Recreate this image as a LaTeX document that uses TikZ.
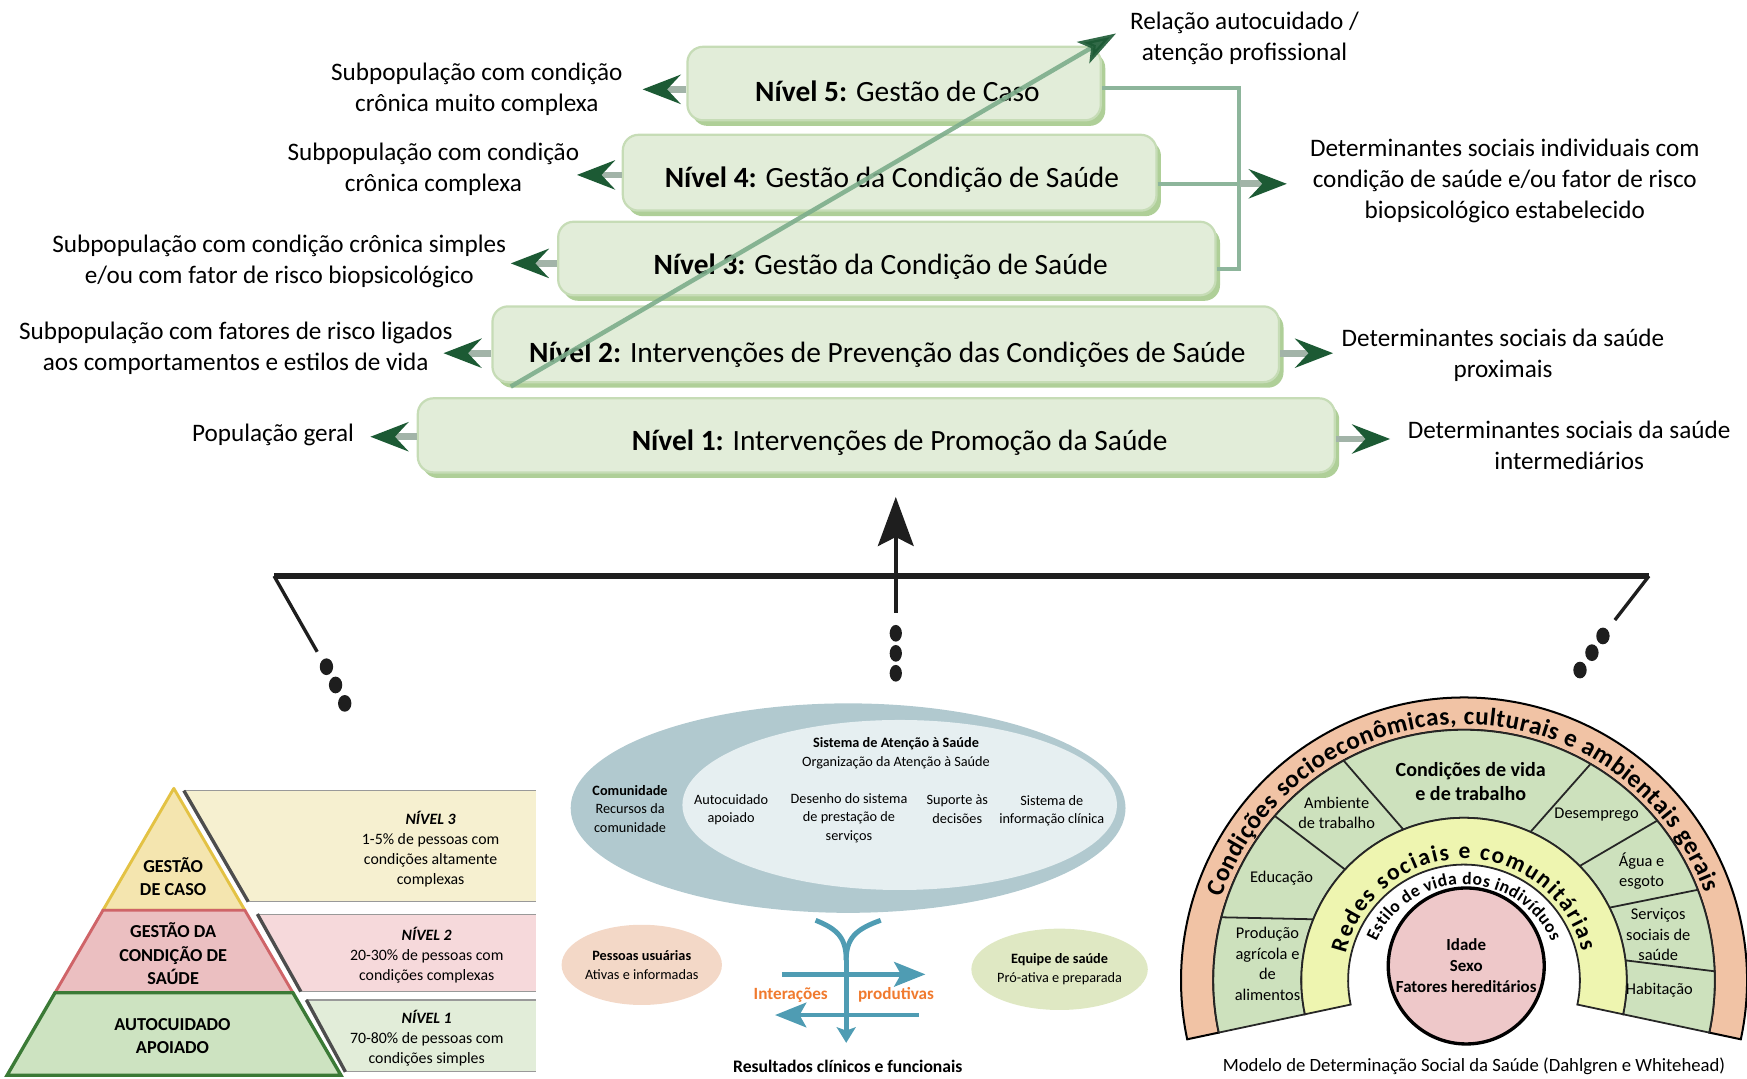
\documentclass[tikz,border=0pt]{standalone}
\usepackage{fontspec}
\setmainfont{Carlito}
\usetikzlibrary{arrows.meta,shapes.geometric,decorations.text,shadows}
\definecolor{barface}{HTML}{E2EDD9}
\definecolor{barrim}{HTML}{C6DCB6}
\definecolor{barshadow}{HTML}{AFCF98}
\definecolor{arrgreen}{HTML}{1C5A34}
\definecolor{stemgray}{HTML}{A2B4A8}
\definecolor{brkcol}{HTML}{8DB59B}
\definecolor{diagcol}{HTML}{7DAD8B}
\definecolor{pyY}{HTML}{F4E5AF}
\definecolor{pyYb}{HTML}{E3C244}
\definecolor{pyR}{HTML}{EBBFC1}
\definecolor{pyRb}{HTML}{CF6468}
\definecolor{pyG}{HTML}{CDE3C1}
\definecolor{pyGb}{HTML}{3B7A36}
\definecolor{bxY}{HTML}{F6F0D0}
\definecolor{bxR}{HTML}{F6D9DB}
\definecolor{bxG}{HTML}{E2EDD9}
\definecolor{bxedgec}{HTML}{4D4D4D}
\definecolor{ellO}{HTML}{B1C9CF}
\definecolor{ellI}{HTML}{E6EFF1}
\definecolor{ellP}{HTML}{F3D8C7}
\definecolor{ellE}{HTML}{DFE8C3}
\definecolor{tealc}{HTML}{4F9CB3}
\definecolor{orangec}{HTML}{F07A2E}
\definecolor{rbS}{HTML}{F1C3A5}
\definecolor{rbG}{HTML}{CDE1BD}
\definecolor{rbY}{HTML}{EEF5B0}
\definecolor{rbP}{HTML}{EEC8C9}
\definecolor{blk}{HTML}{1E1E1E}
\begin{document}
\begin{tikzpicture}[x=0.5pt,y=-0.5pt,
  lab/.style={font=\fontsize{11.3pt}{13.9pt}\selectfont, align=center, inner sep=0pt},
  bar/.style={draw=barrim, line width=1pt, fill=barface, rounded corners=7pt, inner sep=0pt,
    general shadow={fill=barshadow, shadow xshift=2pt, shadow yshift=-2.5pt}},
  bartxt/.style={font=\fontsize{13.2pt}{15pt}\selectfont, anchor=base, inner sep=0pt},
  larr/.style={line width=3pt, draw=stemgray, -{Stealth[length=17pt, width=13pt, inset=6pt, color=arrgreen]}},
  brk/.style={draw=brkcol, line width=1.8pt},
  diag/.style={draw=diagcol, line width=2pt, opacity=0.9, -{Stealth[length=17pt, width=11pt, inset=4pt, color=arrgreen]}},
  blkbar/.style={draw=blk, line width=2.7pt},
  blkleg/.style={draw=blk, line width=1.5pt},
  bigarr/.style={draw=blk, line width=2pt, -{Stealth[length=22pt, width=16pt, inset=4pt]}},
  dotb/.style={fill=blk},
  pyt/.style={font=\bfseries\fontsize{8.2pt}{10.4pt}\selectfont, align=center, inner sep=0pt},
  bxt/.style={font=\fontsize{7.1pt}{9pt}\selectfont, align=center, inner sep=0pt},
  bxtop/.style={draw=black!40, line width=0.5pt},
  bxedge/.style={draw=bxedgec, line width=1.5pt},
  mid/.style={font=\fontsize{6.4pt}{8.3pt}\selectfont, align=center, inner sep=0pt},
  tline/.style={draw=tealc, line width=2.2pt},
  tarr/.style={draw=tealc, line width=2.2pt, -{Stealth[length=14pt, width=11pt, inset=3pt]}},
  tarrs/.style={draw=tealc, line width=2.2pt, -{Stealth[length=7pt, width=8.5pt, inset=1.5pt]}},
  orl/.style={font=\bfseries\fontsize{7.7pt}{9pt}\selectfont, text=orangec, inner sep=0pt},
  rbt/.style={font=\fontsize{7.35pt}{9.3pt}\selectfont, align=center, inner sep=0pt},
  ring/.style={draw=black!85, line width=0.8pt},
]
\useasboundingbox (0,0) rectangle (1568,968);

% ---------------- top: levels ----------------
\node[bar, minimum width=411.5pt, minimum height=33.25pt] (b1) at (786.5,390.75) {};
\node[bar, minimum width=353pt, minimum height=34pt] (b2) at (795,309) {};
\node[bar, minimum width=295pt, minimum height=33pt] (b3) at (796,232) {};
\node[bar, minimum width=239.5pt, minimum height=34pt] (b4) at (798.5,155) {};
\node[bar, minimum width=185.5pt, minimum height=33pt] (b5) at (802.5,75) {};

\node[bartxt] (t5) at (805.5,91) {\textbf{Nível 5:} Gestão de Caso};
\node[bartxt] (t4) at (800.6,168) {\textbf{Nível 4:} Gestão da Condição de Saúde};
\node[bartxt] (t3) at (790.5,246) {\textbf{Nível 3:} Gestão da Condição de Saúde};
\node[bartxt] (t2) at (796.5,325) {\textbf{Nível 2:} Intervenções de Prevenção das Condições de Saúde};
\node[bartxt] (t1) at (807.5,404) {\textbf{Nível 1:} Intervenções de Promoção da Saúde};

% left arrows
\coordinate (a5) at (576.7,80.2);
\coordinate (a4) at (517.8,157);
\coordinate (a3) at (458.4,236.4);
\coordinate (a2) at (398,317);
\coordinate (a1) at (332.4,392);
\draw[larr] (b5.west |- a5) -- (a5);
\draw[larr] (b4.west |- a4) -- (a4);
\draw[larr] (b3.west |- a3) -- (a3);
\draw[larr] (b2.west |- a2) -- (a2);
\draw[larr] (b1.west |- a1) -- (a1);

% right arrows
\coordinate (r2) at (1196.5,317);
\coordinate (r1) at (1247.7,394);
\draw[larr] (b2.east |- r2) -- (r2);
\draw[larr] (b1.east |- r1) -- (r1);

% bracket
\coordinate (k1) at (1112,79);
\coordinate (k2) at (1112,241);
\coordinate (k3) at (1113,165);
\coordinate (k4) at (1155,165);
\draw[brk] (b5.east |- k1) -- (k1) -- (k2) -- (b3.east |- k2);
\draw[brk] (b4.east |- k3) -- (k3);
\draw[larr] (k3) -- (k4);

% labels
\node[lab] (l5) at (428,80.3) {Subpopulação com condição\\crônica muito complexa};
\node[lab] (l4) at (389,152.1) {Subpopulação com condição\\crônica complexa};
\node[lab] (l3) at (250.6,234.5) {Subpopulação com condição crônica simples\\e/ou com fator de risco biopsicológico};
\node[lab] (l2) at (211.6,312.3) {Subpopulação com fatores de risco ligados\\aos comportamentos e estilos de vida};
\node[lab] (l1) at (245,390.5) {População geral};
\node[lab] (rel) at (1117,34.4) {Relação autocuidado /\\atenção profissional};
\node[lab] (d45) at (1350.6,162.3) {Determinantes sociais individuais com\\condição de saúde e/ou fator de risco\\biopsicológico estabelecido};
\node[lab] (d2) at (1349,319) {Determinantes sociais da saúde\\proximais};
\node[lab] (d1) at (1408.3,399.5) {Determinantes sociais da saúde\\intermediários};

% diagonal
\coordinate (dg1) at (458.4,347);
\coordinate (dg2) at (1001.7,30);
\draw[diag] (dg1) -- (dg2);

% ---------------- middle black structure ----------------
\coordinate (hL) at (246,517);
\coordinate (hR) at (1480,517);
\coordinate (legL) at (284.7,585);
\coordinate (legR) at (1449.4,556.5);
\coordinate (arrB) at (804,550);
\coordinate (arrT) at (804,446);
\draw[blkleg] (hL) -- (legL);
\draw[blkleg] (hR) -- (legR);
\draw[blkbar] (hL) -- (hR);
\draw[bigarr] (arrB) -- (arrT);
\fill[dotb] (804,568.4) ellipse [x radius=5.5, y radius=7.5];
\fill[dotb] (804,586.4) ellipse [x radius=5.5, y radius=7.5];
\fill[dotb] (804,604.3) ellipse [x radius=5.5, y radius=7.5];
\fill[dotb] (293,598.4) ellipse [x radius=6, y radius=7.5];
\fill[dotb] (301.2,614.8) ellipse [x radius=6, y radius=7.5];
\fill[dotb] (309.4,631.3) ellipse [x radius=6, y radius=7.5];
\fill[dotb] (1438.7,570.8) ellipse [x radius=6, y radius=7.5];
\fill[dotb] (1428.8,585.8) ellipse [x radius=6, y radius=7.5];
\fill[dotb] (1418.1,601.4) ellipse [x radius=6, y radius=7.5];

% ---------------- bottom left: pyramid ----------------
\filldraw[fill=pyY, draw=pyYb, line width=1.3pt, line join=round] (156,707.6) -- (219.8,817) -- (92.4,817) -- cycle;
\filldraw[fill=pyR, draw=pyRb, line width=1.3pt] (92.4,817) -- (219.8,817) -- (262.9,891) -- (49.4,891) -- cycle;
\filldraw[fill=pyG, draw=pyGb, line width=1.5pt] (49.4,891) -- (262.9,891) -- (306,965) -- (6.4,965) -- cycle;

\fill[bxY] (165,709.6) -- (481,709.6) -- (481,809.3) -- (222.8,809.3) -- cycle;
\draw[bxtop] (165,709.6) -- (481,709.6);
\draw[bxtop] (222.8,809.3) -- (481,809.3);
\draw[bxedge] (165,709.6) -- (222.8,809.3);
\fill[bxR] (231,820.4) -- (481,820.4) -- (481,890) -- (270,890) -- cycle;
\draw[bxtop] (231,820.4) -- (481,820.4);
\draw[bxtop] (270,890) -- (481,890);
\draw[bxedge] (231,820.4) -- (270,890);
\fill[bxG] (275,897.5) -- (481,897.5) -- (481,962) -- (310,962) -- cycle;
\draw[bxtop] (275,897.5) -- (481,897.5);
\draw[bxtop] (310,962) -- (481,962);
\draw[bxedge] (275,897.5) -- (310,962);

\node[pyt] (p3) at (155.4,786.8) {GESTÃO\\DE CASO};
\node[pyt] (p2) at (155.4,856) {GESTÃO DA\\CONDIÇÃO DE\\SAÚDE};
\node[pyt] (p1) at (154.8,930) {AUTOCUIDADO\\APOIADO};
\node[bxt] (n3) at (386.5,762.3) {\textbf{\textit{NÍVEL 3}}\\1-5\% de pessoas com\\condições altamente\\complexas};
\node[bxt] (n2) at (383,857.7) {\textbf{\textit{NÍVEL 2}}\\20-30\% de pessoas com\\condições complexas};
\node[bxt] (n1) at (383,932) {\textbf{\textit{NÍVEL 1}}\\70-80\% de pessoas com\\condições simples};

% ---------------- bottom middle ----------------
\node[ellipse, fill=ellO, minimum width=249pt, minimum height=94pt, inner sep=0pt] (eo) at (761.2,725.3) {};
\node[ellipse, fill=ellI, minimum width=195pt, minimum height=76.3pt, inner sep=0pt] (ei) at (807.5,722.5) {};
\node[ellipse, fill=ellP, minimum width=68pt, minimum height=36pt, inner sep=0pt, mid] (pu) at (576,866) {\textbf{Pessoas usuárias}\\Ativas e informadas};
\node[ellipse, fill=ellE, minimum width=68.5pt, minimum height=36.5pt, inner sep=0pt, mid] (eq) at (951,870) {\textbf{Equipe de saúde}\\Pró-ativa e preparada};

\node[mid] (sas) at (804.2,676) {\textbf{Sistema de Atenção à Saúde}\\Organização da Atenção à Saúde};
\node[mid] (com) at (565.5,726) {\textbf{Comunidade}\\Recursos da\\comunidade};
\node[mid] (aut) at (656.2,726.8) {Autocuidado\\apoiado};
\node[mid] (des) at (762,734.3) {Desenho do sistema\\de prestação de\\serviços};
\node[mid] (sup) at (859.2,726.3) {Suporte às\\decisões};
\node[mid] (sic) at (944,727.5) {Sistema de\\informação clínica};

\coordinate (ys1) at (732,826);
\coordinate (ys2) at (790.5,826);
\coordinate (ym) at (759.5,862);
\coordinate (ytip) at (759.5,936);
\coordinate (hr1) at (701.8,874.5);
\coordinate (hr2) at (830.6,874.5);
\coordinate (hl1) at (824.5,911);
\coordinate (hl2) at (695.6,911);
\draw[tline] (ys1) .. controls (752,834) and (759.5,842) .. (ym);
\draw[tline] (ys2) .. controls (768,834) and (759.5,842) .. (ym);
\draw[tarrs] (ym) -- (ytip);
\draw[tarr] (hr1) -- (hr2);
\draw[tarr] (hl1) -- (hl2);
\node[orl] (inter) at (709.7,893) {Interações};
\node[orl] (prod) at (804.2,893) {produtivas};
\node[font=\bfseries\fontsize{7.9pt}{9pt}\selectfont, inner sep=0pt] (res) at (760.9,957.4) {Resultados clínicos e funcionais};

% ---------------- bottom right: rainbow ----------------
\begin{scope}[shift={(1314,880)}, y=0.5pt]
  \filldraw[fill=rbS, draw=black, line width=0.9pt] (-12:254) arc[start angle=-12, end angle=192, radius=254] -- (192:225) arc[start angle=192, end angle=-12, radius=225] -- cycle;
  \filldraw[fill=rbG, ring] (-12:225) arc[start angle=-12, end angle=192, radius=225] -- (192:146) arc[start angle=192, end angle=-12, radius=146] -- cycle;
  \filldraw[fill=rbY, ring] (-12:146) arc[start angle=-12, end angle=192, radius=146] -- (192:104) arc[start angle=192, end angle=-12, radius=104] -- cycle;
  \draw[ring] (165.4:225) -- (157.9:146);
  \draw[ring] (139:225) -- (137:146);
  \draw[ring] (118.7:225) -- (111.9:146);
  \draw[ring] (59.7:225) -- (65.9:146);
  \draw[ring] (39.6:225) -- (44.7:146);
  \draw[ring] (21.2:225) -- (26.6:146);
  \draw[ring] (2.1:225) -- (7.1:146);
  \filldraw[fill=rbP, draw=black, line width=1.5pt] (2,13) circle[radius=70];
  \path[decorate, decoration={text along path, text align={fit to path},
     text={|\bfseries\fontsize{11.3pt}{13pt}\selectfont|Condições socioeconômicas, culturais e ambientais gerais}}]
     (161:230) arc[start angle=161, end angle=20, radius=230];
  \path[decorate, decoration={text along path, text align={fit to path},
     text={|\bfseries\fontsize{10.5pt}{12pt}\selectfont|Redes sociais e comunitárias}}]
     (167:109) arc[start angle=167, end angle=14, radius=109];
  \path[decorate, decoration={text along path, text align={fit to path},
     text={|\bfseries\fontsize{7.9pt}{9pt}\selectfont|Estilo de vida dos indivíduos}}]
     (156:86) arc[start angle=156, end angle=24, radius=86];
\end{scope}

\node[font=\bfseries\fontsize{9pt}{10.5pt}\selectfont, align=center, inner sep=0pt] (cvt) at (1320,701.5) {Condições de vida\\e de trabalho};
\node[rbt] (amb) at (1199.7,729.6) {Ambiente\\de trabalho};
\node[rbt] (edu) at (1150.3,788.3) {Educação};
\node[rbt] (pro) at (1137.6,865) {Produção\\agrícola e\\de\\alimentos};
\node[rbt] (dese) at (1433,731.5) {Desemprego};
\node[rbt] (agu) at (1473.4,781.9) {Água e\\esgoto};
\node[rbt] (ser) at (1488.3,838.7) {Serviços\\sociais de\\saúde};
\node[rbt] (hab) at (1489.3,888.5) {Habitação};
\node[font=\bfseries\fontsize{7.6pt}{9.35pt}\selectfont, align=center, inner sep=0pt] (ids) at (1316,866.8) {Idade\\Sexo\\Fatores hereditários};
\node[font=\fontsize{8.4pt}{10pt}\selectfont, inner sep=0pt] (cap) at (1323,957) {Modelo de Determinação Social da Saúde (Dahlgren e Whitehead)};
\end{tikzpicture}
\end{document}
